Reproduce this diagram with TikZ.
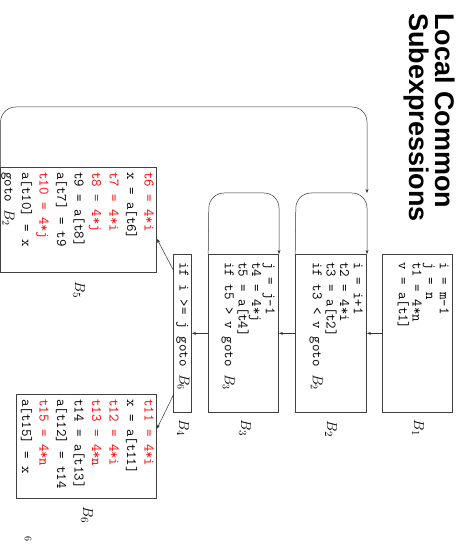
\documentclass[tikz,border=0pt]{standalone}
\usepackage{fontspec}
\newfontfamily\headfont{Liberation Sans}
\usetikzlibrary{arrows.meta,calc}

\begin{document}
\begin{tikzpicture}[x=1pt,y=1pt,
  box/.style={draw=black!75, line width=0.8pt, inner sep=0pt, anchor=north west},
  code/.style={anchor=north west, align=left, inner sep=0pt,
    font=\ttfamily\fontsize{14.5}{13.6}\selectfont},
  bigcode/.style={code, font=\ttfamily\fontsize{14.5}{17.5}\selectfont},
  blabel/.style={font=\fontsize{15}{15}\selectfont},
  flow/.style={draw=black!80, line width=0.5pt, -{Stealth[length=4pt,width=3pt]}},
  backedge/.style={flow, rounded corners=15pt},
  title/.style={anchor=base west, inner sep=0pt, font=\headfont\bfseries\fontsize{27}{29}\selectfont}]
\useasboundingbox (0,0) rectangle (459,547);

% the slide is drawn in its own upright frame and turned a quarter turn clockwise
\begin{scope}[shift={(0,547)}, rotate=-90, transform shape]

  % heading
  \node[title] (t1) at (13,435) {Local Common};
  \node[title] (t2) at (13,409) {Subexpressions};

  % basic blocks
  \node[box, minimum width=158, minimum height=70] (B1) at (254,453) {};
  \node[box, minimum width=158, minimum height=71] (B2) at (254,367) {};
  \node[box, minimum width=158, minimum height=70] (B3) at (254,279) {};
  \node[box, minimum width=158, minimum height=18] (B4) at (254,192) {};
  \node[box, minimum width=105, minimum height=156] (B5) at (167,157) {};
  \node[box, minimum width=104, minimum height=140] (B6) at (394,157) {};

  % block contents
  \node[code] (c1) at (262,449) {i = m-1\\ j = n\\ t1 = 4*n\\ v = a[t1]};
  \node[code] (c2) at (262,363) {i = i+1\\ t2 = 4*i\\ t3 = a[t2]\\ if t3 < v goto $B_2$};
  \node[code] (c3) at (262,275) {j = j-1\\ t4 = 4*j\\ t5 = a[t4]\\ if t5 > v goto $B_3$};
  \node[code, anchor=west] (c4) at (262,183) {if i >= j goto $B_6$};
  \node[bigcode] (c5) at (172,154) {\textcolor{red}{t6 = 4*i}\\ x = a[t6]\\
    \textcolor{red}{t7 = 4*i}\\ \textcolor{red}{t8 = 4*j}\\ t9 = a[t8]\\
    a[t7] = t9\\ \textcolor{red}{t10 = 4*j}\\ a[t10] = x\\ goto $B_2$};
  \node[bigcode] (c6) at (399,154) {\textcolor{red}{t11 = 4*i}\\ x = a[t11]\\
    \textcolor{red}{t12 = 4*i}\\ \textcolor{red}{t13 = 4*n}\\ t14 = a[t13]\\
    a[t12] = t14\\ \textcolor{red}{t15 = 4*n}\\ a[t15] = x};

  % block names
  \node[blabel] (l1) at (428,418) {$B_1$};
  \node[blabel] (l2) at (429,331) {$B_2$};
  \node[blabel] (l3) at (428,245) {$B_3$};
  \node[blabel] (l4) at (428,183) {$B_4$};
  \node[blabel] (l5) at (290,79) {$B_5$};
  \node[blabel] (l6) at (515,87) {$B_6$};

  % fall-through edges
  \draw[flow] (B1.south) -- (B2.north);
  \draw[flow] (B2.south) -- (B3.north);
  \draw[flow] (B3.south) -- (B4.north);
  \draw[flow] ($(B4.south west)!0.10!(B4.south east)$) -- ($(B5.north west)!0.68!(B5.north east)$);
  \draw[flow] ($(B4.south west)!0.89!(B4.south east)$) -- ($(B6.north west)!0.33!(B6.north east)$);

  % back edges
  \coordinate (j2) at (193,367);
  \draw[backedge] (B2.south west) -- (193,296) -- (j2) -- (B2.north west);
  \draw[backedge] (B3.south west) -- (193,209) -- (193,279) -- (B3.north west);
  \draw[backedge] (167,0.6) -- (107,0.6) -- (107,367) -- (j2);

  % page number
  \node[font=\fontsize{10}{10}\selectfont] (pg) at (539,28) {6};
\end{scope}
\end{tikzpicture}
\end{document}
